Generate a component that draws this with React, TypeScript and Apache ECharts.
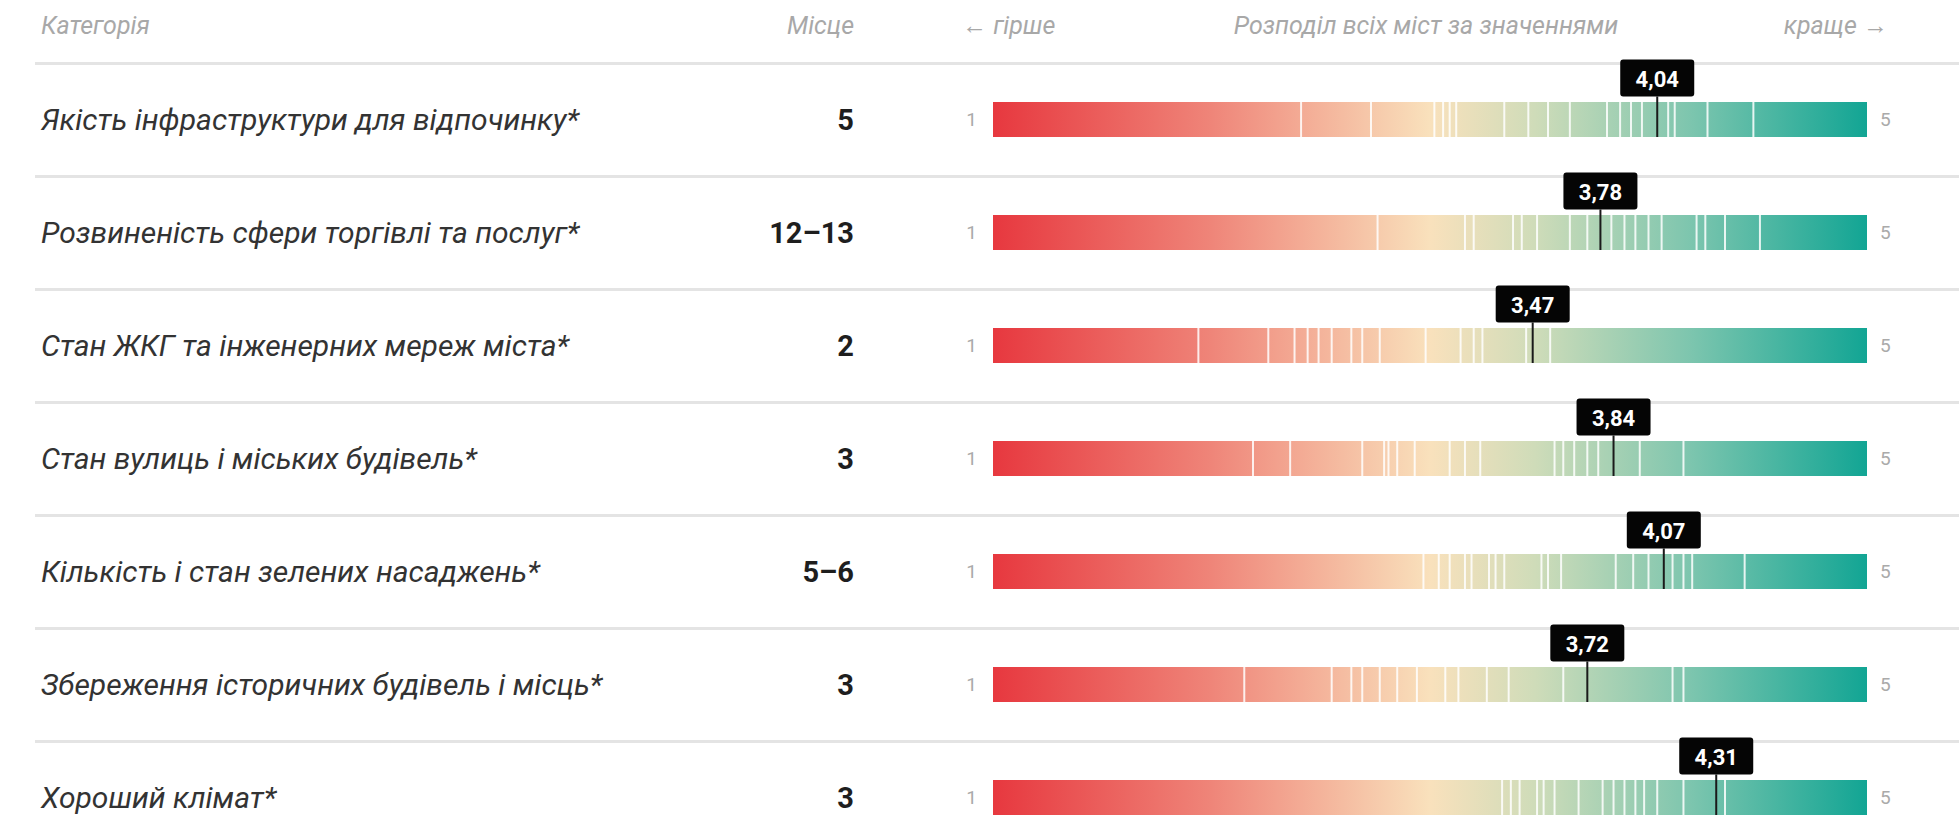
import React, { useEffect, useRef } from 'react';
import * as echarts from 'echarts';

const categories: string[] = [
  'Якість інфраструктури для відпочинку*',
  'Розвиненість сфери торгівлі та послуг*',
  'Стан ЖКГ та інженерних мереж міста*',
  'Стан вулиць і міських будівель*',
  'Кількість і стан зелених насаджень*',
  'Збереження історичних будівель і місць*',
  'Хороший клімат*',
];
const ranks: string[] = ['5', '12–13', '2', '3', '5–6', '3', '3'];
const cityValues: number[] = [4.04, 3.78, 3.47, 3.84, 4.07, 3.72, 4.31];

const distRecreation = [2.41, 2.73, 3.02, 3.06, 3.09, 3.12, 3.34, 3.45, 3.54, 3.64, 3.81, 3.87, 3.92, 3.97, 4.09, 4.12, 4.27, 4.48];
const distTrade = [2.76, 3.16, 3.2, 3.38, 3.42, 3.49, 3.64, 3.72, 3.83, 3.89, 3.94, 4.0, 4.06, 4.22, 4.26, 4.35, 4.51];
const distUtilities = [1.94, 2.26, 2.38, 2.44, 2.49, 2.55, 2.64, 2.69, 2.77, 2.98, 3.14, 3.2, 3.24, 3.44, 3.55];
const distStreets = [2.19, 2.36, 2.69, 2.79, 2.81, 2.85, 2.93, 3.09, 3.16, 3.23, 3.57, 3.61, 3.66, 3.72, 3.77, 3.96, 4.16];
const distGreen = [2.97, 3.04, 3.09, 3.16, 3.19, 3.27, 3.3, 3.34, 3.51, 3.54, 3.6, 3.85, 3.93, 4.0, 4.11, 4.16, 4.2, 4.44];
const distHistoric = [2.15, 2.55, 2.64, 2.69, 2.77, 2.85, 2.94, 3.07, 3.13, 3.26, 3.36, 3.61, 4.11, 4.16];
const distClimate = [3.33, 3.37, 3.41, 3.49, 3.52, 3.57, 3.68, 3.79, 3.84, 3.89, 3.94, 3.98, 4.04, 4.16, 4.35];
const distributions: number[][] = [distRecreation, distTrade, distUtilities, distStreets, distGreen, distHistoric, distClimate];

const scaleMin = 1;
const scaleMax = 5;

const headerCategory = 'Категорія';
const headerRank = 'Місце';
const headerWorse = '← гірше';
const headerDistribution = 'Розподіл всіх міст за значеннями';
const headerBetter = 'краще →';

const fmt = (v: number) => v.toFixed(2).replace('.', ',');

export default function App() {
  const ref = useRef<HTMLDivElement>(null);

  useEffect(() => {
    document.body.style.margin = '0';
    document.body.style.overflow = 'hidden';
    const chart = echarts.init(ref.current as HTMLDivElement, null, { renderer: 'svg' });

    const gridTop = 63;
    const rowH = 113;
    const gridHeight = rowH * categories.length;
    const barFrac = 0.31;
    const FONT = 'Roboto, "Noto Sans", sans-serif';
    const stops = [
      { offset: 0, color: '#e7383f' },
      { offset: 0.25, color: '#ef8579' },
      { offset: 0.5, color: '#f9e1bc' },
      { offset: 0.62, color: '#cfdcb9' },
      { offset: 0.8, color: '#7cc5ae' },
      { offset: 1, color: '#12a594' },
    ];

    const headerStyle = (text: string, x: number, align: string) => ({
      type: 'text',
      x,
      y: 25,
      style: {
        text,
        textAlign: align,
        align,
        textVerticalAlign: 'middle',
        verticalAlign: 'middle',
        fill: '#a8a8a8',
        fontSize: 25,
        fontStyle: 'italic',
        fontFamily: FONT,
      },
    });

    const option: any = {
      animation: false,
      backgroundColor: '#ffffff',
      graphic: [
        headerStyle(headerCategory, 41, 'left'),
        headerStyle(headerRank, 854, 'right'),
        headerStyle(headerWorse, 962, 'left'),
        headerStyle(headerDistribution, 1426, 'center'),
        headerStyle(headerBetter, 1888, 'right'),
      ],
      grid: [
        { left: 35, right: 0, top: gridTop, height: gridHeight },
        { left: 993, right: 92, top: gridTop, height: gridHeight },
      ],
      xAxis: [
        { gridIndex: 0, type: 'value', min: 0, max: 1, show: false },
        { gridIndex: 1, type: 'value', min: scaleMin, max: scaleMax, show: false },
      ],
      yAxis: [
        {
          gridIndex: 0,
          type: 'category',
          data: categories,
          inverse: true,
          axisLine: { show: false },
          axisTick: { show: false },
          splitLine: { show: true, interval: 0, lineStyle: { color: '#e4e4e4', width: 3 } },
          axisLabel: {
            inside: true,
            margin: 6,
            interval: 0,
            align: 'left',
            formatter: (value: string, index: number) => `{n|${value}}{r|${ranks[index]}}`,
            rich: {
              n: { width: 700, align: 'left', fontFamily: FONT, fontStyle: 'italic', fontSize: 30, color: '#333333' },
              r: { width: 113, align: 'right', fontFamily: FONT, fontWeight: 'bold', fontSize: 29, color: '#1e1e1e' },
            },
          },
        },
        {
          gridIndex: 1,
          type: 'category',
          data: categories,
          inverse: true,
          position: 'left',
          axisLine: { show: false },
          axisTick: { show: false },
          splitLine: { show: false },
          axisLabel: {
            interval: 0,
            margin: 16,
            formatter: () => String(scaleMin),
            color: '#aaaaaa',
            fontSize: 19,
            fontFamily: FONT,
          },
        },
        {
          gridIndex: 1,
          type: 'category',
          data: categories,
          inverse: true,
          position: 'right',
          axisLine: { show: false },
          axisTick: { show: false },
          splitLine: { show: false },
          axisLabel: {
            interval: 0,
            margin: 13,
            formatter: () => String(scaleMax),
            color: '#aaaaaa',
            fontSize: 19,
            fontFamily: FONT,
          },
        },
      ],
      series: [
        {
          type: 'custom',
          xAxisIndex: 1,
          yAxisIndex: 1,
          data: categories.map((_, i) => [scaleMin, i, scaleMax]),
          encode: { x: [0, 2], y: 1 },
          renderItem: (params: any, api: any) => {
            const idx = api.value(1);
            const s = api.coord([api.value(0), idx]);
            const e = api.coord([api.value(2), idx]);
            const h = api.size([0, 1])[1] * barFrac;
            return {
              type: 'rect',
              shape: { x: s[0], y: s[1] - h / 2, width: e[0] - s[0], height: h },
              style: { fill: new echarts.graphic.LinearGradient(0, 0, 1, 0, stops) },
            };
          },
        },
        {
          type: 'custom',
          xAxisIndex: 1,
          yAxisIndex: 1,
          data: distributions.flatMap((arr, i) => arr.map((v) => [v, i])),
          encode: { x: 0, y: 1 },
          renderItem: (params: any, api: any) => {
            const c = api.coord([api.value(0), api.value(1)]);
            const h = api.size([0, 1])[1] * barFrac;
            return {
              type: 'rect',
              shape: { x: c[0] - 1, y: c[1] - h / 2, width: 2, height: h },
              style: { fill: 'rgba(255,255,255,0.85)' },
            };
          },
        },
        {
          type: 'custom',
          xAxisIndex: 1,
          yAxisIndex: 1,
          data: cityValues.map((v, i) => [v, i]),
          encode: { x: 0, y: 1 },
          renderItem: (params: any, api: any) => {
            const v = api.value(0);
            const c = api.coord([v, api.value(1)]);
            const h = api.size([0, 1])[1] * barFrac;
            const boxW = 74;
            const boxH = 37;
            const boxTop = c[1] - 60;
            return {
              type: 'group',
              children: [
                {
                  type: 'line',
                  shape: { x1: c[0], y1: boxTop + boxH, x2: c[0], y2: c[1] + h / 2 },
                  style: { stroke: '#1a1a1a', lineWidth: 2 },
                },
                {
                  type: 'rect',
                  shape: { x: c[0] - boxW / 2, y: boxTop, width: boxW, height: boxH, r: 3 },
                  style: { fill: '#050505' },
                },
                {
                  type: 'text',
                  style: {
                    text: fmt(v),
                    x: c[0],
                    y: boxTop + boxH / 2 + 1,
                    align: 'center',
                    verticalAlign: 'middle',
                    fill: '#ffffff',
                    fontSize: 22,
                    fontWeight: 'bold',
                    fontFamily: FONT,
                  },
                },
              ],
            };
          },
        },
      ],
    };

    chart.setOption(option);
    return () => chart.dispose();
  }, []);

  return <div ref={ref} style={{ width: 1959, height: 860 }} />;
}
